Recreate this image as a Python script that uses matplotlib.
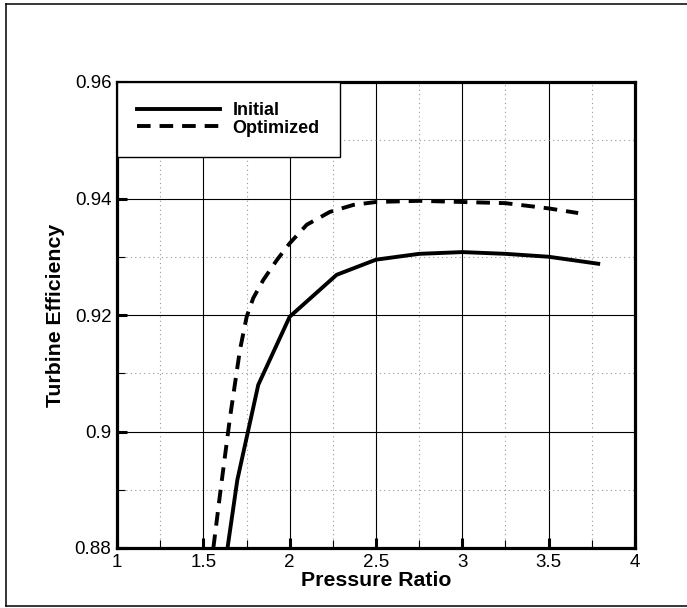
import matplotlib
matplotlib.use("Agg")
import matplotlib.pyplot as plt
from matplotlib.lines import Line2D
from matplotlib.ticker import MultipleLocator

plt.rcParams['font.family'] = ['Liberation Sans', 'DejaVu Sans']

# pressure ratio vs turbine efficiency
initial_pr = [1.64, 1.697, 1.818, 2.0, 2.272, 2.5, 2.75, 3.0, 3.25, 3.5, 3.787]
initial_eff = [0.880, 0.8917, 0.9080, 0.9197, 0.9269, 0.9295, 0.9305, 0.9308, 0.9305, 0.9300, 0.9288]

optimized_pr = [1.558, 1.60, 1.654, 1.712, 1.751, 1.789, 1.847, 1.925, 2.0, 2.099,
                2.233, 2.369, 2.5, 2.75, 3.0, 3.25, 3.5, 3.671]
optimized_eff = [0.880, 0.890, 0.9023, 0.914, 0.9197, 0.9229, 0.926, 0.9294, 0.9323, 0.9355,
                 0.9377, 0.9389, 0.9394, 0.9396, 0.9394, 0.9392, 0.9383, 0.9375]

series_labels = ['Initial', 'Optimized']
x_ticks = [1, 1.5, 2, 2.5, 3, 3.5, 4]
y_ticks = [0.88, 0.9, 0.92, 0.94, 0.96]
y_ticklabels = ['0.88', '0.9', '0.92', '0.94', '0.96']

fig = plt.figure(figsize=(6.87, 6.08), dpi=100)
ax = fig.add_axes([117 / 687, 60 / 608, 518 / 687, 466 / 608])

# outer frame: left, top and bottom edges (right edge is off the page)
fx0, fy0, fy1 = 6 / 687, 2.5 / 608, 604 / 608
for xs, ys in [([fx0, fx0], [fy0, fy1]), ([fx0, 1], [fy1, fy1]), ([fx0, 1], [fy0, fy0])]:
    fig.add_artist(Line2D(xs, ys, transform=fig.transFigure, color='black', lw=1.1))

ax.plot(initial_pr, initial_eff, color='black', lw=2.8, ls='-',
        label=series_labels[0], zorder=4)
ax.plot(optimized_pr, optimized_eff, color='black', lw=2.8,
        dashes=(3.5, 2.3), label=series_labels[1], zorder=4)

ax.set_xlim(1, 4)
ax.set_ylim(0.88, 0.96)
ax.set_xticks(x_ticks)
ax.set_xticklabels([('%g' % v) for v in x_ticks])
ax.set_yticks(y_ticks)
ax.set_yticklabels(y_ticklabels)
ax.xaxis.set_minor_locator(MultipleLocator(0.25))
ax.yaxis.set_minor_locator(MultipleLocator(0.01))

ax.grid(which='major', color='black', lw=0.8, ls='-')
ax.grid(which='minor', color='#999999', lw=0.8, ls=(0, (1, 3)))
ax.set_axisbelow(True)

ax.tick_params(which='major', direction='in', length=7, width=2.2,
               labelsize=13.5, pad=4)
ax.tick_params(which='minor', direction='in', length=6, width=0.8)
for s in ax.spines.values():
    s.set_linewidth(2.3)

ax.set_xlabel('Pressure Ratio', fontsize=15.3, fontweight='bold', labelpad=0)
ax.set_ylabel('Turbine Efficiency', fontsize=15.3, fontweight='bold', labelpad=7)

leg = ax.legend(loc='upper left', bbox_to_anchor=(0, 1), borderaxespad=0,
                fancybox=False, edgecolor='black', framealpha=1,
                prop={'weight': 'bold', 'size': 13}, handlelength=4.6,
                handletextpad=0.7, labelspacing=0.05, borderpad=1.1)
leg.get_frame().set_linewidth(1.0)

fig.savefig('out.png', dpi=100)
